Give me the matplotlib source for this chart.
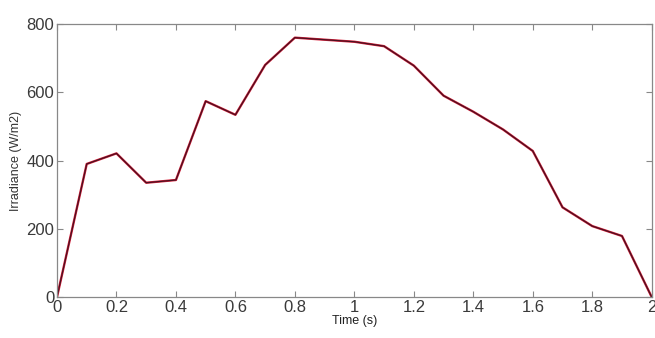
import matplotlib.pyplot as plt
import numpy as np

plt.rcParams['font.family'] = ['Liberation Sans', 'DejaVu Sans']

tiempo = [0, 0.1, 0.2, 0.3, 0.4, 0.5, 0.6, 0.7, 0.8, 0.9, 1.0,
          1.1, 1.2, 1.3, 1.4, 1.5, 1.6, 1.7, 1.8, 1.9, 2.0]
irradiancia = [0, 390, 421, 335, 343, 574, 534, 680, 760, 754, 748,
               735, 678, 590, 543, 491, 428, 263, 208, 179, 0]

x_ticks = [0, 0.2, 0.4, 0.6, 0.8, 1, 1.2, 1.4, 1.6, 1.8, 2]
x_labels = ['0', '0.2', '0.4', '0.6', '0.8', '1', '1.2', '1.4', '1.6', '1.8', '2']
y_ticks = [0, 200, 400, 600, 800]

fig = plt.figure(figsize=(6.55, 3.38), dpi=100)
ax = fig.add_axes([0.087, 0.121, 0.908, 0.808])

# linea roja debajo y oscura encima, como en la figura original
ax.plot(tiempo, irradiancia, color='#d8203a', linewidth=1.7)
ax.plot(tiempo, irradiancia, color='#4a1020', linewidth=0.9)

ax.set_xlim(0, 2)
ax.set_ylim(0, 800)
ax.set_xticks(x_ticks)
ax.set_xticklabels(x_labels)
ax.set_yticks(y_ticks)

for s in ax.spines.values():
    s.set_color('#888888')
    s.set_linewidth(0.9)
ax.tick_params(direction='in', top=True, right=True, length=4,
               color='#888888', labelcolor='#3a3a3a', labelsize=12, pad=2)

ax.set_xlabel('Time (s)', fontsize=9, color='#222222', labelpad=0)
ax.set_ylabel('Irradiance (W/m2)', fontsize=9, color='#333333', labelpad=3)

fig.savefig('out.png', dpi=100)
